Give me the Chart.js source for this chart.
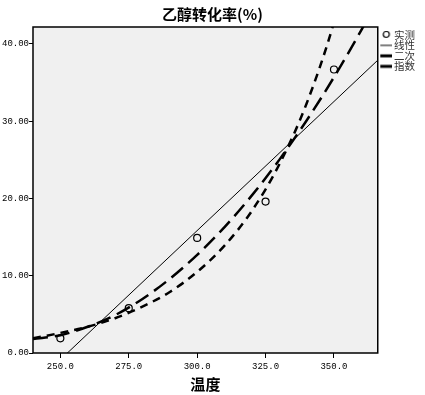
<!DOCTYPE html>
<html>
<head>
<meta charset="utf-8">
<script src="https://cdn.jsdelivr.net/npm/chart.js@4/dist/chart.umd.min.js"></script>
<style>
  body { margin: 0; background: #fff; }
</style>
</head>
<body>
<canvas id="rateChart" width="425" height="395"></canvas>
<script>
// observed points
const obsTemp = [250, 275, 300, 325, 350];
const obsRate = [1.9, 5.8, 14.9, 19.6, 36.7];

// fitted lines
const linTemp = [240, 366];
const linRate = [-4.2, 37.9];
const fitTemp = [240, 250, 260, 270, 280, 290, 300, 310, 320, 330, 340, 350, 360, 366];
const quadRate = [1.8, 2.3, 3.4, 4.9, 7.0, 9.6, 12.7, 16.3, 20.4, 25.0, 30.1, 35.7, 41.8, 45.7];
const expRate = [1.9, 2.6, 3.4, 4.5, 6.0, 7.9, 10.5, 13.9, 18.4, 24.4, 32.3, 42.8, 56.7, 67.1];

const xTicks = [250, 275, 300, 325, 350];
const yTicks = [0, 10, 20, 30, 40];
const seriesNames = ["实测", "线性", "二次", "指数"];

function pts(xs, ys) {
    return xs.map((x, i) => ({ x: x, y: ys[i] }));
}

// small legend markers
function marker(kind) {
    const c = document.createElement("canvas");
    c.width = 18;
    c.height = 8;
    const g = c.getContext("2d");
    g.strokeStyle = "#000";
    if (kind == "circle") {
        g.lineWidth = 1.2;
        g.beginPath();
        g.arc(12, 3.5, 3, 0, Math.PI * 2);
        g.stroke();
    } else {
        g.lineWidth = kind == "thin" ? 1 : 3;
        g.beginPath();
        g.moveTo(6, 4);
        g.lineTo(18, 4);
        g.stroke();
    }
    return c;
}
const markers = [marker("circle"), marker("thin"), marker("thick"), marker("thick")];

const frame = {
    id: "frame",
    beforeDatasetsDraw(chart) {
        const a = chart.chartArea;
        const ctx = chart.ctx;
        ctx.save();
        ctx.fillStyle = "#f0f0f0";
        ctx.fillRect(a.left, a.top, a.right - a.left, a.bottom - a.top);
        ctx.restore();
    },
    afterDatasetsDraw(chart) {
        const a = chart.chartArea;
        const ctx = chart.ctx;
        ctx.save();
        ctx.strokeStyle = "#000";
        ctx.lineWidth = 1.5;
        ctx.strokeRect(a.left, a.top, a.right - a.left, a.bottom - a.top);
        ctx.restore();
    }
};

const tickFont = { family: "Liberation Mono", size: 9 };

new Chart(document.getElementById("rateChart"), {
    type: "line",
    data: {
        datasets: [
            {
                label: seriesNames[0],
                data: pts(obsTemp, obsRate),
                showLine: false,
                pointRadius: 3.5,
                pointBorderWidth: 1.2,
                pointBorderColor: "#000",
                pointBackgroundColor: "rgba(0,0,0,0)",
                clip: 0
            },
            {
                label: seriesNames[1],
                data: pts(linTemp, linRate),
                borderColor: "#000",
                borderWidth: 1,
                pointRadius: 0,
                clip: 0
            },
            {
                label: seriesNames[2],
                data: pts(fitTemp, quadRate),
                borderColor: "#000",
                borderWidth: 2.5,
                borderDash: [15, 7],
                cubicInterpolationMode: "monotone",
                pointRadius: 0,
                clip: 0
            },
            {
                label: seriesNames[3],
                data: pts(fitTemp, expRate),
                borderColor: "#000",
                borderWidth: 2.5,
                borderDash: [8, 6],
                cubicInterpolationMode: "monotone",
                pointRadius: 0,
                clip: 0
            }
        ]
    },
    options: {
        responsive: false,
        animation: false,
        layout: { padding: 0 },
        plugins: {
            title: {
                display: true,
                text: "乙醇转化率(%)",
                color: "#000",
                font: { family: "Noto Sans CJK SC", size: 15, weight: "bold" },
                padding: { top: 5, bottom: 4 }
            },
            legend: {
                display: true,
                position: "right",
                align: "start",
                // empty title only pushes the items down next to the plot
                title: { display: true, text: " ", font: { size: 3 }, padding: { top: 26, bottom: 0 } },
                labels: {
                    usePointStyle: true,
                    pointStyleWidth: 11,
                    boxHeight: 8,
                    padding: 0,
                    color: "#333",
                    font: { family: "Noto Sans CJK SC", size: 10.5 },
                    generateLabels(chart) {
                        const items = Chart.defaults.plugins.legend.labels.generateLabels(chart);
                        items.forEach((it, i) => { it.pointStyle = markers[i]; });
                        return items;
                    }
                }
            },
            tooltip: { enabled: false }
        },
        scales: {
            x: {
                type: "linear",
                min: 240,
                max: 366,
                afterBuildTicks: s => { s.ticks = xTicks.map(v => ({ value: v })); },
                afterFit: s => { s.height = 42; },
                ticks: {
                    callback: v => v.toFixed(1),
                    font: tickFont,
                    color: "#000",
                    padding: 3,
                    maxRotation: 0
                },
                grid: { drawOnChartArea: false, tickLength: 5, color: "#000" },
                border: { display: false },
                title: {
                    display: true,
                    text: "温度",
                    color: "#000",
                    font: { family: "Noto Sans CJK SC", size: 15, weight: "bold" },
                    padding: { top: 0, bottom: 2 }
                }
            },
            y: {
                min: 0,
                max: 42.2,
                afterBuildTicks: s => { s.ticks = yTicks.map(v => ({ value: v })); },
                afterFit: s => { s.width = 33; },
                ticks: {
                    callback: v => v.toFixed(2),
                    font: tickFont,
                    color: "#000",
                    padding: 0
                },
                grid: { drawOnChartArea: false, tickLength: 4, color: "#000" },
                border: { display: false }
            }
        }
    },
    plugins: [frame]
});
</script>
</body>
</html>
